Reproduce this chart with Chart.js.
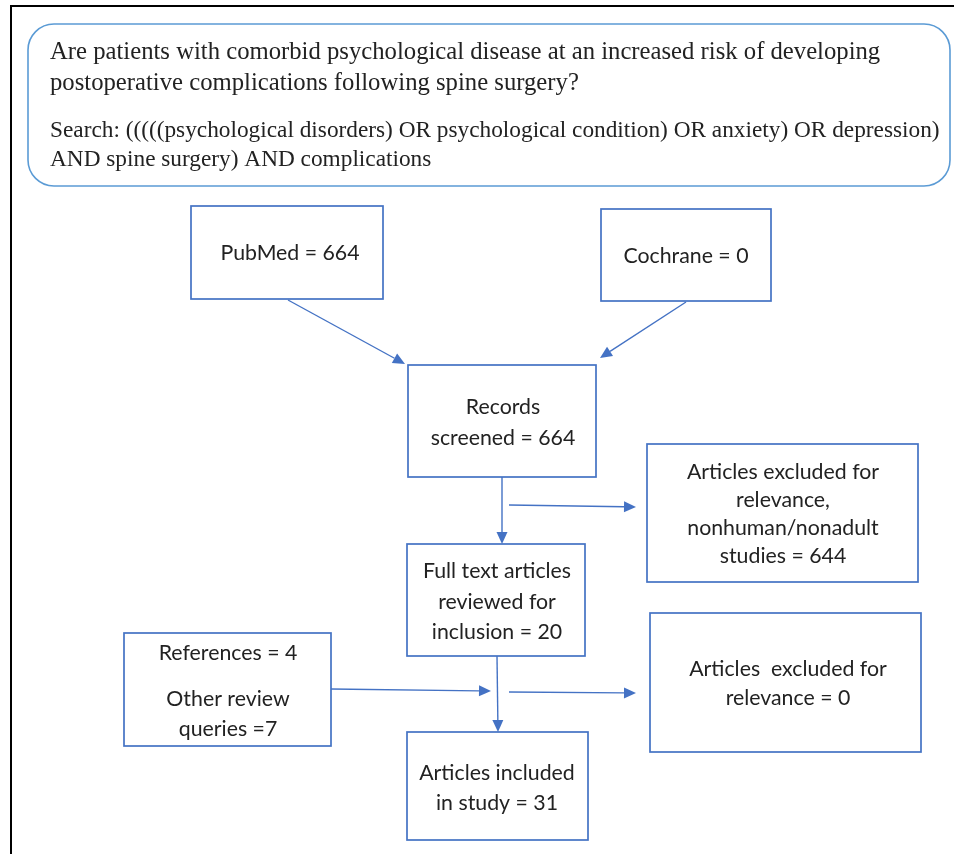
<!DOCTYPE html>
<html>
<head>
<meta charset="utf-8">
<script src="https://cdn.jsdelivr.net/npm/chart.js@4.4.0/dist/chart.umd.min.js"></script>
<style>
  body { margin: 0; background: #fff; }
  canvas { display: block; }
</style>
</head>
<body>
<canvas id="flujo" width="954" height="854"></canvas>
<script>
// datos del diagrama
const preguntaLineas = [
    'Are patients with comorbid psychological disease at an increased risk of developing',
    'postoperative complications following spine surgery?'
];
const busquedaLineas = [
    'Search: (((((psychological disorders) OR psychological condition) OR anxiety) OR depression)',
    'AND spine surgery) AND complications'
];
const cajas = ['pubmed', 'cochrane', 'records', 'excl1', 'full', 'excl2', 'refs', 'incl'];
const conteos = [664, 0, 664, 644, 20, 0, 4, 7, 31];
const textos = [
    ['PubMed = ' + conteos[0]],
    ['Cochrane = ' + conteos[1]],
    ['Records', 'screened = ' + conteos[2]],
    ['Articles excluded for', 'relevance,', 'nonhuman/nonadult', 'studies = ' + conteos[3]],
    ['Full text articles', 'reviewed for', 'inclusion = ' + conteos[4]],
    ['Articles  excluded for', 'relevance = ' + conteos[5]],
    ['References = ' + conteos[6], '', 'Other review', 'queries =' + conteos[7]],
    ['Articles included', 'in study = ' + conteos[8]]
];

// posiciones (x1, y1, x2, y2) y linea media de cada texto
const posiciones = {
    pubmed:   { r: [191, 206, 383, 299], ys: [253], cx: 290 },
    cochrane: { r: [601, 209, 771, 301], ys: [256], cx: 686 },
    records:  { r: [408, 365, 596, 477], ys: [407, 438], cx: 503 },
    excl1:    { r: [647, 444, 918, 582], ys: [472, 500, 528, 556], cx: 783 },
    full:     { r: [407, 544, 585, 656], ys: [571, 602, 632], cx: 497 },
    excl2:    { r: [650, 613, 921, 752], ys: [669, 698], cx: 788 },
    refs:     { r: [124, 633, 331, 746], ys: [653, 0, 699, 729], cx: 228 },
    incl:     { r: [407, 732, 588, 840], ys: [773, 803], cx: 497 }
};
const flechas = [
    [288, 300, 405, 364],
    [686, 302, 600, 358],
    [502, 477, 502, 544],
    [509, 505, 636, 507],
    [497, 656, 498, 732],
    [331, 689, 491, 691],
    [509, 692, 636, 693]
];

const azul = '#4472c4';
const azulClaro = '#5b9bd5';

const dibujoPlugin = {
    id: 'dibujo',
    afterDraw(chart) {
        const ctx = chart.ctx;
        const sx = chart.scales.x, sy = chart.scales.y;
        const px = v => sx.getPixelForValue(v);
        const py = v => sy.getPixelForValue(v);
        ctx.save();

        // marco negro
        ctx.strokeStyle = '#000';
        ctx.lineWidth = 2;
        ctx.beginPath();
        ctx.moveTo(px(11), py(854));
        ctx.lineTo(px(11), py(6));
        ctx.lineTo(px(954), py(6));
        ctx.stroke();

        // caja redondeada de la pregunta
        ctx.strokeStyle = azulClaro;
        ctx.lineWidth = 1.6;
        ctx.beginPath();
        ctx.roundRect(px(28), py(24), px(950) - px(28), py(186) - py(24), 26);
        ctx.stroke();
        ctx.fillStyle = '#222';
        ctx.textAlign = 'left';
        ctx.textBaseline = 'middle';
        ctx.font = '24.7px "Liberation Serif", "Times New Roman", serif';
        ctx.fillText(preguntaLineas[0], px(50), py(53));
        ctx.fillText(preguntaLineas[1], px(50), py(84));
        ctx.font = '23.3px "Liberation Serif", "Times New Roman", serif';
        ctx.fillText(busquedaLineas[0], px(50), py(131));
        ctx.fillText(busquedaLineas[1], px(50), py(160));

        // cajas
        ctx.font = '21.3px Lato, "Open Sans", sans-serif';
        ctx.textAlign = 'center';
        cajas.forEach((nombre, i) => {
            const p = posiciones[nombre];
            ctx.strokeStyle = azul;
            ctx.lineWidth = 1.7;
            ctx.strokeRect(px(p.r[0]), py(p.r[1]), px(p.r[2]) - px(p.r[0]), py(p.r[3]) - py(p.r[1]));
            ctx.fillStyle = '#222';
            textos[i].forEach((linea, j) => {
                if (linea) ctx.fillText(linea, px(p.cx), py(p.ys[j]));
            });
        });

        // flechas
        ctx.strokeStyle = azul;
        ctx.fillStyle = azul;
        ctx.lineWidth = 1.4;
        flechas.forEach(f => {
            const x1 = px(f[0]), y1 = py(f[1]), x2 = px(f[2]), y2 = py(f[3]);
            const ang = Math.atan2(y2 - y1, x2 - x1);
            const largo = 12, ancho = 5.5;
            const bx = x2 - largo * Math.cos(ang), by = y2 - largo * Math.sin(ang);
            ctx.beginPath();
            ctx.moveTo(x1, y1);
            ctx.lineTo(bx, by);
            ctx.stroke();
            ctx.beginPath();
            ctx.moveTo(x2, y2);
            ctx.lineTo(bx + ancho * Math.sin(ang), by - ancho * Math.cos(ang));
            ctx.lineTo(bx - ancho * Math.sin(ang), by + ancho * Math.cos(ang));
            ctx.closePath();
            ctx.fill();
        });
        ctx.restore();
    }
};

new Chart(document.getElementById('flujo'), {
    type: 'scatter',
    data: { datasets: [{ data: [], pointRadius: 0 }] },
    options: {
        responsive: false,
        animation: false,
        layout: { padding: 0 },
        plugins: { legend: { display: false }, tooltip: { enabled: false } },
        scales: {
            x: { type: 'linear', min: 0, max: 954, display: false },
            y: { type: 'linear', min: 0, max: 854, reverse: true, display: false }
        }
    },
    plugins: [dibujoPlugin]
});
</script>
</body>
</html>
